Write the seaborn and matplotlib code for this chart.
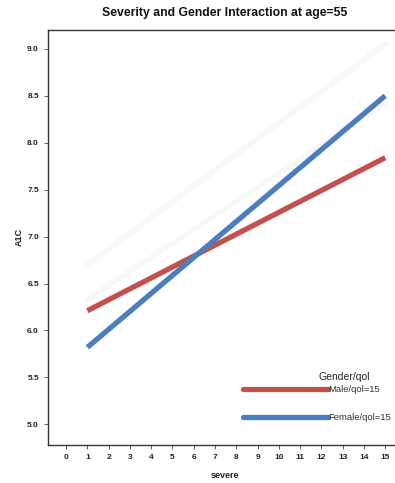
import matplotlib
matplotlib.use('Agg')
import matplotlib.pyplot as plt
import seaborn as sns
import numpy as np
import pandas as pd
from matplotlib.lines import Line2D

# Data
severe = [1, 15]
male_a1c = [6.21, 7.84]
female_a1c = [5.82, 8.50]
# faint ghost traces visible behind the main lines
ghost_upper = [6.70, 9.05]
ghost_lower = [6.33, 8.42]

series_names = ['Male/qol=15', 'Female/qol=15']
x_ticks = list(range(0, 16))
y_ticks = [5.0, 5.5, 6.0, 6.5, 7.0, 7.5, 8.0, 8.5, 9.0]

RED = '#c4504b'
BLUE = '#4a7ebf'

df = pd.DataFrame({
    'severe': severe * 2,
    'A1C': male_a1c + female_a1c,
    'group': [series_names[0]] * 2 + [series_names[1]] * 2,
})
ghost = pd.DataFrame({
    'severe': severe * 2,
    'A1C': ghost_upper + ghost_lower,
    'group': ['g1'] * 2 + ['g2'] * 2,
})

sns.set_style('white')
plt.rcParams['font.family'] = ['Liberation Sans', 'DejaVu Sans']

fig = plt.figure(figsize=(3.95, 4.83), dpi=100)
W, H = 395, 483
ax = fig.add_axes([48 / W, 1 - 445 / H, 350 / W, 415 / H])

sns.lineplot(data=ghost, x='severe', y='A1C', hue='group',
             palette=['#f7f7f7', '#f7f7f7'], linewidth=4, legend=False, ax=ax)
sns.lineplot(data=df, x='severe', y='A1C', hue='group',
             palette=[RED, BLUE], linewidth=3.8, legend=False, ax=ax,
             solid_capstyle='butt')

ax.set_xlim(-0.85, 15.6)
ax.set_ylim(4.78, 9.2)
ax.set_xticks(x_ticks)
ax.set_yticks(y_ticks)
ax.set_yticklabels([f'{v:.1f}' for v in y_ticks])
ax.tick_params(axis='both', which='both', direction='out', length=3, width=0.6,
               labelsize=6, labelcolor='#222222', color='#444444', bottom=True, left=True)
for lab in ax.get_xticklabels() + ax.get_yticklabels():
    lab.set_fontweight('bold')
for side in ['left', 'bottom', 'top']:
    ax.spines[side].set_color('#333333')
    ax.spines[side].set_linewidth(1.0)
ax.spines['right'].set_visible(False)

ax.set_xlabel('')
ax.set_ylabel('')
fig.text(225 / W, 1 - 475 / H, 'severe', ha='center', va='center',
         fontsize=6.5, fontweight='bold', color='#222222')
fig.text(19 / W, 1 - 237 / H, 'A1C', ha='center', va='center', rotation=90,
         fontsize=6.5, fontweight='bold', color='#222222')
fig.text(225 / W, 1 - 13 / H, 'Severity and Gender Interaction at age=55',
         ha='center', va='center', fontsize=8.8, fontweight='bold', color='#111111')

# legend title sits on its own, over the label column
fig.text(344 / W, 1 - 377 / H, 'Gender/qol', ha='center', va='center',
         fontsize=7.5, color='#222222')
handles = [Line2D([], [], color=RED, linewidth=3.8),
           Line2D([], [], color=BLUE, linewidth=3.8)]
leg = fig.legend(handles, series_names, loc='upper left',
                 bbox_to_anchor=(243 / W, 1 - 385 / H), frameon=False,
                 fontsize=6.8, handlelength=9.0,
                 handletextpad=0.05, labelspacing=2.05, borderpad=0,
                 borderaxespad=0)
for t in leg.get_texts():
    t.set_color('#333333')

fig.savefig('out.png', dpi=100)
